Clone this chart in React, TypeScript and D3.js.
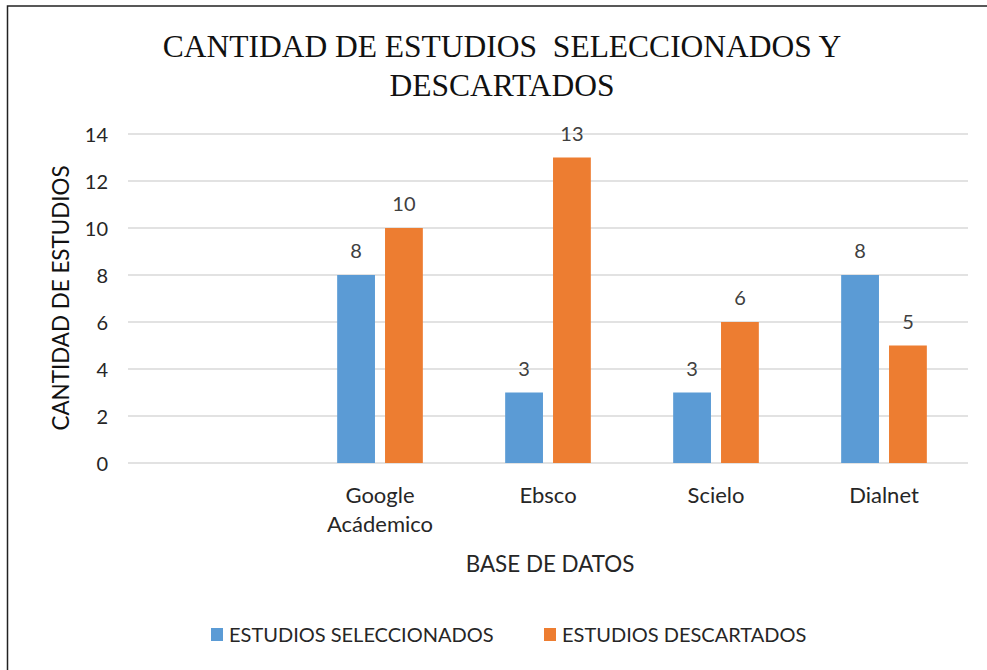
import React, { useEffect, useRef } from 'react';
import * as d3 from 'd3';

// chart data
const categories = ['', 'Google Acádemico', 'Ebsco', 'Scielo', 'Dialnet'];
const seriesNames = ['ESTUDIOS SELECCIONADOS', 'ESTUDIOS DESCARTADOS'];
const seleccionados = [null, 8, 3, 3, 8];
const descartados = [null, 10, 13, 6, 5];
const yTicks = [0, 2, 4, 6, 8, 10, 12, 14];
const colors = ['#5B9BD5', '#ED7D31'];

const SANS = 'Lato, "Open Sans", sans-serif';
const SERIF = '"Liberation Serif", "Times New Roman", serif';

const App = () => {
  const ref = useRef<SVGSVGElement>(null);

  useEffect(() => {
    const svg = d3.select(ref.current);
    svg.selectAll('*').remove();

    const plot = { left: 128, right: 968, top: 134, bottom: 463 };

    // outer frame (right/bottom edges fall outside the picture)
    svg.append('rect')
      .attr('x', 7.5).attr('y', 6)
      .attr('width', 1000).attr('height', 700)
      .attr('fill', '#fff').attr('stroke', '#222').attr('stroke-width', 1.5);

    const x0 = d3.scaleBand<number>()
      .domain(categories.map((_, i) => i))
      .range([plot.left, plot.right]);

    const x1 = d3.scaleBand<number>()
      .domain([0, 1])
      .range([0, x0.bandwidth()])
      .paddingInner(0.21)
      .paddingOuter(0.86);

    const y = d3.scaleLinear().domain([0, 14]).range([plot.bottom, plot.top]);

    // gridlines
    svg.append('g')
      .selectAll('line')
      .data(yTicks)
      .enter()
      .append('line')
      .attr('x1', plot.left).attr('x2', plot.right)
      .attr('y1', (d) => y(d)).attr('y2', (d) => y(d))
      .attr('stroke', '#D9D9D9').attr('stroke-width', 1.5);

    // y tick labels
    svg.append('g')
      .selectAll('text')
      .data(yTicks)
      .enter()
      .append('text')
      .attr('x', 108)
      .attr('y', (d) => y(d) + 8)
      .attr('text-anchor', 'end')
      .attr('font-family', SANS).attr('font-size', 20)
      .attr('fill', '#262626')
      .text((d) => d);

    // bars + labels
    const series = [seleccionados, descartados];
    series.forEach((vals, s) => {
      const g = svg.append('g');
      const data = vals.map((v, i) => ({ v, i })).filter((d) => d.v != null) as { v: number; i: number }[];
      g.selectAll('rect')
        .data(data)
        .enter()
        .append('rect')
        .attr('x', (d) => x0(d.i)! + x1(s)!)
        .attr('y', (d) => y(d.v))
        .attr('width', x1.bandwidth())
        .attr('height', (d) => y(0) - y(d.v))
        .attr('fill', colors[s]);
      g.selectAll('text')
        .data(data)
        .enter()
        .append('text')
        .attr('x', (d) => x0(d.i)! + x1(s)! + x1.bandwidth() / 2)
        .attr('y', (d) => y(d.v) - 17)
        .attr('text-anchor', 'middle')
        .attr('font-family', SANS).attr('font-size', 20)
        .attr('fill', '#404040')
        .text((d) => d.v);
    });

    // x labels (wrapped on the space)
    categories.forEach((c, i) => {
      const words = c.split(' ');
      const t = svg.append('text')
        .attr('text-anchor', 'middle')
        .attr('font-family', SANS).attr('font-size', 22)
        .attr('fill', '#262626');
      words.forEach((w, k) => {
        t.append('tspan')
          .attr('x', x0(i)! + x0.bandwidth() / 2)
          .attr('y', 503 + k * 29)
          .text(w);
      });
    });

    // title
    const titleLines = ['CANTIDAD DE ESTUDIOS  SELECCIONADOS Y', 'DESCARTADOS'];
    titleLines.forEach((line, k) => {
      svg.append('text')
        .attr('x', 502).attr('y', 57 + k * 39)
        .attr('text-anchor', 'middle')
        .attr('font-family', SERIF).attr('font-size', 31.5)
        .attr('fill', '#111')
        .style('white-space', 'pre')
        .text(line);
    });

    // axis titles
    svg.append('text')
      .attr('transform', 'translate(69,298) rotate(-90)')
      .attr('text-anchor', 'middle')
      .attr('font-family', SANS).attr('font-size', 22.4)
      .attr('fill', '#111')
      .text('CANTIDAD DE ESTUDIOS');
    svg.append('text')
      .attr('x', 550).attr('y', 572)
      .attr('text-anchor', 'middle')
      .attr('font-family', SANS).attr('font-size', 22.4)
      .attr('fill', '#262626')
      .text('BASE DE DATOS');

    // legend
    const legendX = [211, 544];
    seriesNames.forEach((name, s) => {
      svg.append('rect')
        .attr('x', legendX[s]).attr('y', 628)
        .attr('width', 12).attr('height', 13)
        .attr('fill', colors[s]);
      svg.append('text')
        .attr('x', legendX[s] + 18).attr('y', 642)
        .attr('font-family', SANS).attr('font-size', 20)
        .attr('fill', '#262626')
        .text(name);
    });
  }, []);

  return (
    <svg
      ref={ref}
      width={987}
      height={670}
      style={{ position: 'absolute', left: 0, top: 0, display: 'block' }}
    />
  );
};

export default App;
